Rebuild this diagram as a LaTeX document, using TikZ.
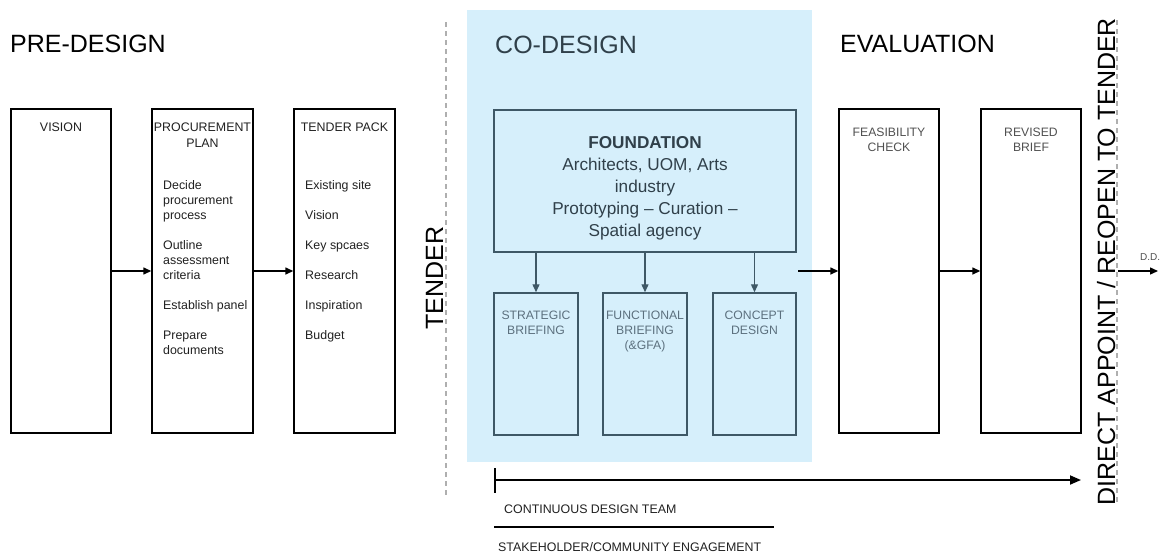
\documentclass[tikz,border=0pt]{standalone}
\usepackage{fontspec}
\setmainfont{Liberation Sans}
\usetikzlibrary{arrows.meta}
\definecolor{cdblue}{RGB}{214,239,251}
\definecolor{slate}{RGB}{62,88,102}
\definecolor{slatetext}{RGB}{48,64,74}
\definecolor{subtext}{RGB}{92,112,126}
\definecolor{dgray}{RGB}{32,32,32}
\definecolor{mgray}{RGB}{80,80,80}
\definecolor{dashgray}{RGB}{175,175,175}
\begin{document}
\begin{tikzpicture}[x=1pt,y=-1pt,
  heading/.style={font=\fontsize{25}{30}\selectfont, inner sep=0pt, anchor=base west},
  pbox/.style={draw=black, line width=1.4pt, inner sep=0pt},
  sbox/.style={draw=slate, line width=1.5pt, inner sep=0pt},
  lbl/.style={font=\fontsize{12.4}{15}\selectfont, inner sep=0pt, anchor=base, text=dgray},
  item/.style={font=\fontsize{12.4}{15}\selectfont, inner sep=0pt, anchor=base west, text=dgray},
  ftxt/.style={font=\fontsize{17.2}{22}\selectfont, inner sep=0pt, anchor=base, text=slatetext},
  stxt/.style={font=\fontsize{12.2}{15}\selectfont, inner sep=0pt, anchor=base, text=subtext},
  etxt/.style={font=\fontsize{12.2}{15}\selectfont, inner sep=0pt, anchor=base, text=mgray},
  arr/.style={line width=1.4pt, -{Triangle[length=8pt,width=7pt]}},
  sarr/.style={draw=slate, line width=1.4pt, -{Triangle[length=8pt,width=7pt]}},
  dline/.style={draw=dashgray, line width=1.2pt, dash pattern=on 5pt off 4pt}
]
\useasboundingbox (0,0) rectangle (1164,554);

% co-design zone
\node[fill=cdblue, inner sep=0pt, minimum width=345, minimum height=452] (cdzone) at (639.5,236) {};

% headings
\node[heading] (hpre) at (10,52) {PRE-DESIGN};
\node[heading, text=slatetext] (hco) at (495,53) {CO-DESIGN};
\node[heading] (hev) at (840,52) {EVALUATION};
\node[font=\fontsize{25}{30}\selectfont, inner sep=0pt, anchor=base, rotate=90] (htender) at (443,278) {TENDER};
\node[font=\fontsize{25}{30}\selectfont, inner sep=0pt, anchor=base, rotate=90] (hdirect) at (1115,261.5) {DIRECT APPOINT / REOPEN TO TENDER};

% dashed separators
\coordinate (d1a) at (446,22); \coordinate (d1b) at (446,498);
\coordinate (d2a) at (1117,20); \coordinate (d2b) at (1117,502);
\draw[dline] (d1a) -- (d1b);
\draw[dline] (d2a) -- (d2b);

% pre-design boxes
\node[pbox, minimum width=100, minimum height=324] (vision) at (61,271) {};
\node[pbox, minimum width=101, minimum height=324] (proc) at (202.5,271) {};
\node[pbox, minimum width=101, minimum height=324] (tpack) at (344.5,271) {};

\node[lbl] (lvision) at (61,131.3) {VISION};
\node[lbl] (lproc1) at (202.5,131.3) {PROCUREMENT};
\node[lbl] (lproc2) at (202.5,147.3) {PLAN};
\node[lbl] (ltpack) at (344.5,131.3) {TENDER PACK};

\node[item] (p1) at (163,189.3) {Decide};
\node[item] (p2) at (163,204.3) {procurement};
\node[item] (p3) at (163,219.3) {process};
\node[item] (p4) at (163,249.3) {Outline};
\node[item] (p5) at (163,264.3) {assessment};
\node[item] (p6) at (163,279.3) {criteria};
\node[item] (p7) at (163,309.3) {Establish panel};
\node[item] (p8) at (163,339.3) {Prepare};
\node[item] (p9) at (163,354.3) {documents};

\node[item] (t1) at (305,189.3) {Existing site};
\node[item] (t2) at (305,219.3) {Vision};
\node[item] (t3) at (305,249.3) {Key spcaes};
\node[item] (t4) at (305,279.3) {Research};
\node[item] (t5) at (305,309.3) {Inspiration};
\node[item] (t6) at (305,339.3) {Budget};

\draw[arr] (vision.east) -- (proc.west);
\draw[arr] (proc.east) -- (tpack.west);

% co-design boxes
\node[sbox, minimum width=302, minimum height=142] (found) at (645,181) {};
\node[ftxt, font=\fontsize{17.2}{22}\selectfont\bfseries] (f1) at (645,148) {FOUNDATION};
\node[ftxt] (f2) at (645,170) {Architects, UOM, Arts};
\node[ftxt] (f3) at (645,192) {industry};
\node[ftxt] (f4) at (645,214) {Prototyping -- Curation --};
\node[ftxt] (f5) at (645,236) {Spatial agency};

\node[sbox, minimum width=84, minimum height=142] (strat) at (536,364) {};
\node[sbox, minimum width=84, minimum height=142] (func) at (645,364) {};
\node[sbox, minimum width=83, minimum height=142] (conc) at (754.5,364) {};

\node[stxt] (s1) at (536,319) {STRATEGIC};
\node[stxt] (s2) at (536,334) {BRIEFING};
\node[stxt] (u1) at (645,319) {FUNCTIONAL};
\node[stxt] (u2) at (645,334) {BRIEFING};
\node[stxt] (u3) at (645,349) {(\&GFA)};
\node[stxt] (c1) at (754.5,319) {CONCEPT};
\node[stxt] (c2) at (754.5,334) {DESIGN};

\draw[sarr] (found.south -| strat.north) -- (strat.north);
\draw[sarr] (found.south -| func.north) -- (func.north);
\draw[sarr] (found.south -| conc.north) -- (conc.north);

% evaluation boxes
\node[pbox, minimum width=100, minimum height=324] (feas) at (889,271) {};
\node[pbox, minimum width=100, minimum height=324] (rev) at (1031,271) {};
\node[etxt] (e1) at (889,136) {FEASIBILITY};
\node[etxt] (e2) at (889,151) {CHECK};
\node[etxt] (r1) at (1031,136) {REVISED};
\node[etxt] (r2) at (1031,151) {BRIEF};

\coordinate (cdout) at (798,271);
\draw[arr] (cdout) -- (feas.west);
\draw[arr] (feas.east) -- (rev.west);

% D.D.
\coordinate (dda) at (1118,271);
\coordinate (ddb) at (1158,271);
\draw[arr] (dda) -- (ddb);
\node[font=\fontsize{10}{12}\selectfont, inner sep=0pt, anchor=base west, text=mgray] (dd) at (1140,260) {D.D.};

% bottom lines
\coordinate (cta) at (494,480);
\coordinate (ctb) at (1081,480);
\draw[line width=1.8pt, {Bar[width=25pt]}-{Triangle[length=11pt,width=9pt]}] (cta) -- (ctb);
\node[item] (ctl) at (504,513) {CONTINUOUS DESIGN TEAM};
\coordinate (sha) at (494,527);
\coordinate (shb) at (774,527);
\draw[line width=2.6pt] (sha) -- (shb);
\node[item] (shl) at (498,551) {STAKEHOLDER/COMMUNITY ENGAGEMENT};
\end{tikzpicture}
\end{document}
